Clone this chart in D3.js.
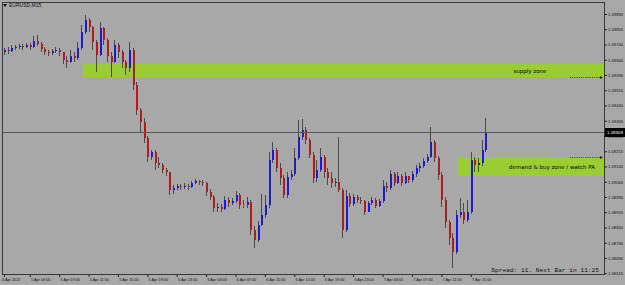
<!DOCTYPE html>
<html><head><meta charset="utf-8">
<script src="https://cdn.jsdelivr.net/npm/d3@7"></script>
<style>html,body{margin:0;padding:0;background:#a8a8a8;} svg{display:block;}</style>
</head><body>
<svg id="c" width="625" height="285"></svg>
<script>
const symbolTitle = "EURUSD,M15";
const statusText = "Spread: 11. Next Bar in 11:25";
const currentPrice = 1.09309;

const opens = [
1.09703,1.09713,1.09708,1.09723,1.09728,1.09733,1.09728,1.09738,1.09728,1.09757,
1.09743,1.09718,1.09703,1.09698,1.09708,1.09713,1.09703,1.09664,1.09654,1.09683,
1.09674,1.09723,1.09802,1.09861,1.09826,1.09752,1.09688,1.09821,1.09762,1.09683,
1.09654,1.09738,1.09703,1.09654,1.09624,1.09713,1.09541,1.09418,1.09359,1.09280,
1.09187,1.09211,1.09157,1.09147,1.09123,1.09113,1.09024,1.09034,1.09044,1.09039,
1.09044,1.09039,1.09059,1.09068,1.09064,1.09059,1.09014,1.08990,1.08936,1.08941,
1.08931,1.08975,1.08960,1.08970,1.09000,1.08950,1.08950,1.08965,1.08827,1.08778,
1.08852,1.08901,1.08950,1.09172,1.09221,1.09132,1.09083,1.09000,1.09088,1.09103,
1.09182,1.09285,1.09319,1.09270,1.09196,1.09083,1.09123,1.09187,1.09113,1.09083,
1.09059,1.09064,1.09024,1.08827,1.08995,1.08955,1.08990,1.08975,1.08970,1.08916,
1.08960,1.08975,1.08945,1.08970,1.09044,1.09034,1.09103,1.09059,1.09093,1.09059,
1.09093,1.09073,1.09103,1.09132,1.09142,1.09167,1.09187,1.09260,1.09182,1.09098,
1.08975,1.08867,1.08788,1.08719,1.08901,1.08916,1.08877,1.08916,1.09172,1.09147,
1.09157,1.09221];

const highs = [
1.09723,1.09728,1.09738,1.09738,1.09743,1.09743,1.09747,1.09747,1.09782,1.09787,
1.09752,1.09728,1.09713,1.09718,1.09728,1.09723,1.09703,1.09683,1.09713,1.09703,
1.09752,1.09836,1.09885,1.09870,1.09831,1.09762,1.09851,1.09826,1.09772,1.09703,
1.09762,1.09747,1.09713,1.09664,1.09752,1.09723,1.09556,1.09428,1.09378,1.09290,
1.09221,1.09221,1.09187,1.09157,1.09132,1.09113,1.09049,1.09054,1.09054,1.09059,
1.09054,1.09068,1.09078,1.09073,1.09073,1.09064,1.09029,1.09000,1.08960,1.08955,
1.08995,1.08990,1.08985,1.09019,1.09009,1.08975,1.08990,1.08975,1.08847,1.08872,
1.09004,1.09000,1.09211,1.09260,1.09231,1.09157,1.09098,1.09113,1.09123,1.09231,
1.09369,1.09374,1.09334,1.09280,1.09211,1.09172,1.09231,1.09196,1.09132,1.09113,
1.09083,1.09285,1.09034,1.09024,1.09009,1.09004,1.09000,1.08990,1.08975,1.08970,
1.08990,1.08985,1.08980,1.09073,1.09064,1.09123,1.09113,1.09113,1.09103,1.09113,
1.09093,1.09118,1.09147,1.09157,1.09182,1.09201,1.09334,1.09270,1.09191,1.09113,
1.08990,1.08877,1.08813,1.08926,1.08985,1.08960,1.08975,1.09211,1.09187,1.09182,
1.09270,1.09378];

const lows = [
1.09688,1.09693,1.09703,1.09713,1.09718,1.09713,1.09723,1.09713,1.09723,1.09733,
1.09703,1.09688,1.09683,1.09688,1.09698,1.09683,1.09644,1.09624,1.09649,1.09654,
1.09664,1.09713,1.09792,1.09802,1.09713,1.09605,1.09683,1.09738,1.09654,1.09580,
1.09649,1.09674,1.09624,1.09590,1.09605,1.09516,1.09393,1.09305,1.09255,1.09162,
1.09172,1.09123,1.09132,1.09108,1.09093,1.09000,1.09004,1.09024,1.09024,1.09029,
1.09024,1.09034,1.09054,1.09049,1.09044,1.08995,1.08975,1.08916,1.08916,1.08916,
1.08926,1.08941,1.08950,1.08960,1.08931,1.08936,1.08936,1.08803,1.08739,1.08768,
1.08847,1.08886,1.08936,1.09157,1.09113,1.09049,1.08985,1.08985,1.09073,1.09093,
1.09172,1.09270,1.09251,1.09182,1.09059,1.09064,1.09113,1.09083,1.09049,1.09034,
1.09039,1.09014,1.08788,1.08818,1.08941,1.08945,1.08960,1.08955,1.08901,1.08945,
1.08950,1.08936,1.08941,1.08960,1.09014,1.09024,1.09044,1.09054,1.09044,1.09054,
1.09059,1.09064,1.09088,1.09113,1.09132,1.09157,1.09182,1.09162,1.09073,1.08941,
1.08837,1.08754,1.08640,1.08709,1.08886,1.08857,1.08867,1.08906,1.09113,1.09113,
1.09142,1.09211];

const closes = [
1.09713,1.09708,1.09723,1.09728,1.09733,1.09728,1.09738,1.09728,1.09757,1.09743,
1.09718,1.09703,1.09698,1.09708,1.09713,1.09703,1.09664,1.09654,1.09683,1.09674,
1.09723,1.09802,1.09861,1.09826,1.09752,1.09688,1.09821,1.09762,1.09683,1.09654,
1.09738,1.09703,1.09654,1.09624,1.09713,1.09541,1.09418,1.09359,1.09280,1.09187,
1.09211,1.09157,1.09147,1.09123,1.09113,1.09024,1.09034,1.09044,1.09039,1.09044,
1.09039,1.09059,1.09068,1.09064,1.09059,1.09014,1.08990,1.08936,1.08941,1.08931,
1.08975,1.08960,1.08970,1.09000,1.08950,1.08950,1.08965,1.08827,1.08778,1.08852,
1.08901,1.08950,1.09172,1.09221,1.09132,1.09083,1.09000,1.09088,1.09103,1.09182,
1.09285,1.09319,1.09270,1.09196,1.09083,1.09123,1.09187,1.09113,1.09083,1.09059,
1.09064,1.09024,1.08827,1.08995,1.08955,1.08990,1.08975,1.08970,1.08916,1.08960,
1.08975,1.08945,1.08970,1.09044,1.09034,1.09103,1.09059,1.09093,1.09059,1.09093,
1.09073,1.09103,1.09132,1.09142,1.09167,1.09187,1.09260,1.09182,1.09098,1.08975,
1.08867,1.08788,1.08719,1.08901,1.08916,1.08877,1.08916,1.09172,1.09147,1.09157,
1.09221,1.09309];

const priceTicks = [1.09890,1.09815,1.09740,1.09665,1.09590,1.09515,1.09440,1.09365,1.09290,
  1.09215,1.09140,1.09065,1.08990,1.08915,1.08840,1.08765,1.08690,1.08615];

const timeTickBars = [0,7,15,23,31,39,47,55,63,71,79,87,95,103,111,119,127];
const timeTickLabels = ["4 Apr 2022","5 Apr 03:00","5 Apr 07:00","5 Apr 11:00","5 Apr 15:00",
  "5 Apr 19:00","5 Apr 23:00","6 Apr 03:00","6 Apr 07:00","6 Apr 11:00","6 Apr 15:00",
  "6 Apr 19:00","6 Apr 23:00","7 Apr 03:00","7 Apr 07:00","7 Apr 11:00","7 Apr 15:00"];

const zoneNames = ["supply zone","demand & buy zone / watch PA"];
const zoneTop = [1.09645, 1.09189];
const zoneBottom = [1.09580, 1.09093];
const zoneStartBar = [22, 124];
const zoneArrowPrice = [1.09580, 1.09189];

// ---------- drawing ----------
const W = 625, H = 285;
const L = 2, R = 604, T = 2, B = 274;
const svg = d3.select("#c");
const x = d3.scaleLinear().domain([0, closes.length - 1]).range([4, 485.4]);
const y = d3.scaleLinear().domain([1.08616, 1.09890]).range([273, 14]);
const step = x(1) - x(0);
const font = "'DejaVu Sans', 'Liberation Sans', sans-serif";
const axisFont = "'Liberation Sans', Arial, sans-serif";

svg.append("rect").attr("width", W).attr("height", H).attr("fill", "#a8a8a8");

// zones
const zoneLabelX = [530, 552];
zoneNames.forEach((n, k) => {
  const x0 = Math.round(x(zoneStartBar[k]) - step / 2);
  const yt = Math.round(y(zoneTop[k])), yb = Math.round(y(zoneBottom[k]));
  svg.append("rect").attr("x", x0).attr("y", yt).attr("width", R - x0).attr("height", yb - yt)
    .attr("fill", "#9acd32").attr("shape-rendering", "crispEdges");
  svg.append("text").attr("x", zoneLabelX[k]).attr("y", (yt + yb) / 2 + 2)
    .attr("text-anchor", "middle").attr("font-family", font).attr("font-size", 5.5)
    .attr("fill", "#000").text(n);
  const ya = Math.round(y(zoneArrowPrice[k])) + 0.5;
  svg.append("line").attr("x1", 570).attr("x2", 602).attr("y1", ya).attr("y2", ya)
    .attr("stroke", "#222").attr("stroke-width", 0.8).attr("stroke-dasharray", "1,1.2");
  svg.append("path").attr("d", `M${600},${ya - 1.5} L${603},${ya} L${600},${ya + 1.5} Z`).attr("fill", "#222");
});

// candles
const bars = closes.map((c, i) => ({ i, o: opens[i], h: highs[i], l: lows[i], c }));
const cg = svg.append("g").attr("shape-rendering", "crispEdges");
cg.selectAll("line.wick").data(bars).join("line").attr("class", "wick")
  .attr("x1", d => Math.round(x(d.i)) + 0.5).attr("x2", d => Math.round(x(d.i)) + 0.5)
  .attr("y1", d => y(d.h)).attr("y2", d => y(d.l))
  .attr("stroke", "#4a4a4a").attr("stroke-width", 1);
cg.selectAll("rect.body").data(bars).join("rect").attr("class", "body")
  .attr("x", d => Math.round(x(d.i)))
  .attr("y", d => Math.min(y(d.o), y(d.c)))
  .attr("width", 1.6)
  .attr("height", d => Math.max(1, Math.abs(y(d.o) - y(d.c))))
  .attr("fill", d => d.c > d.o ? "#1c1ccc" : (d.c < d.o ? "#b01c1c" : "#22dd22"));

// current price line
const yc = Math.round(y(currentPrice)) + 0.5;
svg.append("line").attr("x1", L).attr("x2", R).attr("y1", yc).attr("y2", yc)
  .attr("stroke", "#585858").attr("stroke-width", 1);

// frame
svg.append("rect").attr("x", L + 0.5).attr("y", T + 0.5).attr("width", R - L).attr("height", B - T)
  .attr("fill", "none").attr("stroke", "#3a3a3a").attr("stroke-width", 1);

// price axis
const yAxis = d3.axisRight(y).tickValues(priceTicks).tickFormat(d3.format(".5f"))
  .tickSize(2.5).tickPadding(1);
const ya = svg.append("g").attr("transform", `translate(${R + 0.5},0)`).call(yAxis);
ya.select(".domain").remove();
ya.selectAll("line").attr("stroke", "#222");
ya.selectAll("text").attr("font-family", axisFont).attr("font-size", 4.2).attr("fill", "#111");

// current price box
svg.append("rect").attr("x", R + 1).attr("y", yc - 4.5).attr("width", 20).attr("height", 9).attr("fill", "#000");
svg.append("text").attr("x", R + 3).attr("y", yc + 1.6).attr("font-family", axisFont)
  .attr("font-size", 4.4).attr("fill", "#fff").text(d3.format(".5f")(currentPrice));

// time axis
const xAxis = d3.axisBottom(x).tickValues(timeTickBars)
  .tickFormat((d, k) => timeTickLabels[k]).tickSize(2.5).tickPadding(1);
const xa = svg.append("g").attr("transform", `translate(0,${B + 0.5})`).call(xAxis);
xa.select(".domain").remove();
xa.selectAll("line").attr("stroke", "#222");
xa.selectAll("text").attr("font-family", axisFont).attr("font-size", 3.8).attr("fill", "#111")
  .attr("text-anchor", "start").attr("dx", 0.8);
xa.selectAll("text").filter((d, k) => k === 0).attr("dx", -2.5);

// title
svg.append("path").attr("d", "M3,4 L7,4 L5,7 Z").attr("fill", "#000");
svg.append("text").attr("x", 9).attr("y", 7.3).attr("font-family", axisFont).attr("font-size", 5)
  .attr("fill", "#111").text(symbolTitle);

// status
svg.append("text").attr("x", 599).attr("y", 272).attr("text-anchor", "end")
  .attr("font-family", "'Liberation Mono', 'DejaVu Sans Mono', monospace").attr("font-size", 6.2)
  .attr("fill", "#111").text(statusText);
</script>
</body></html>
